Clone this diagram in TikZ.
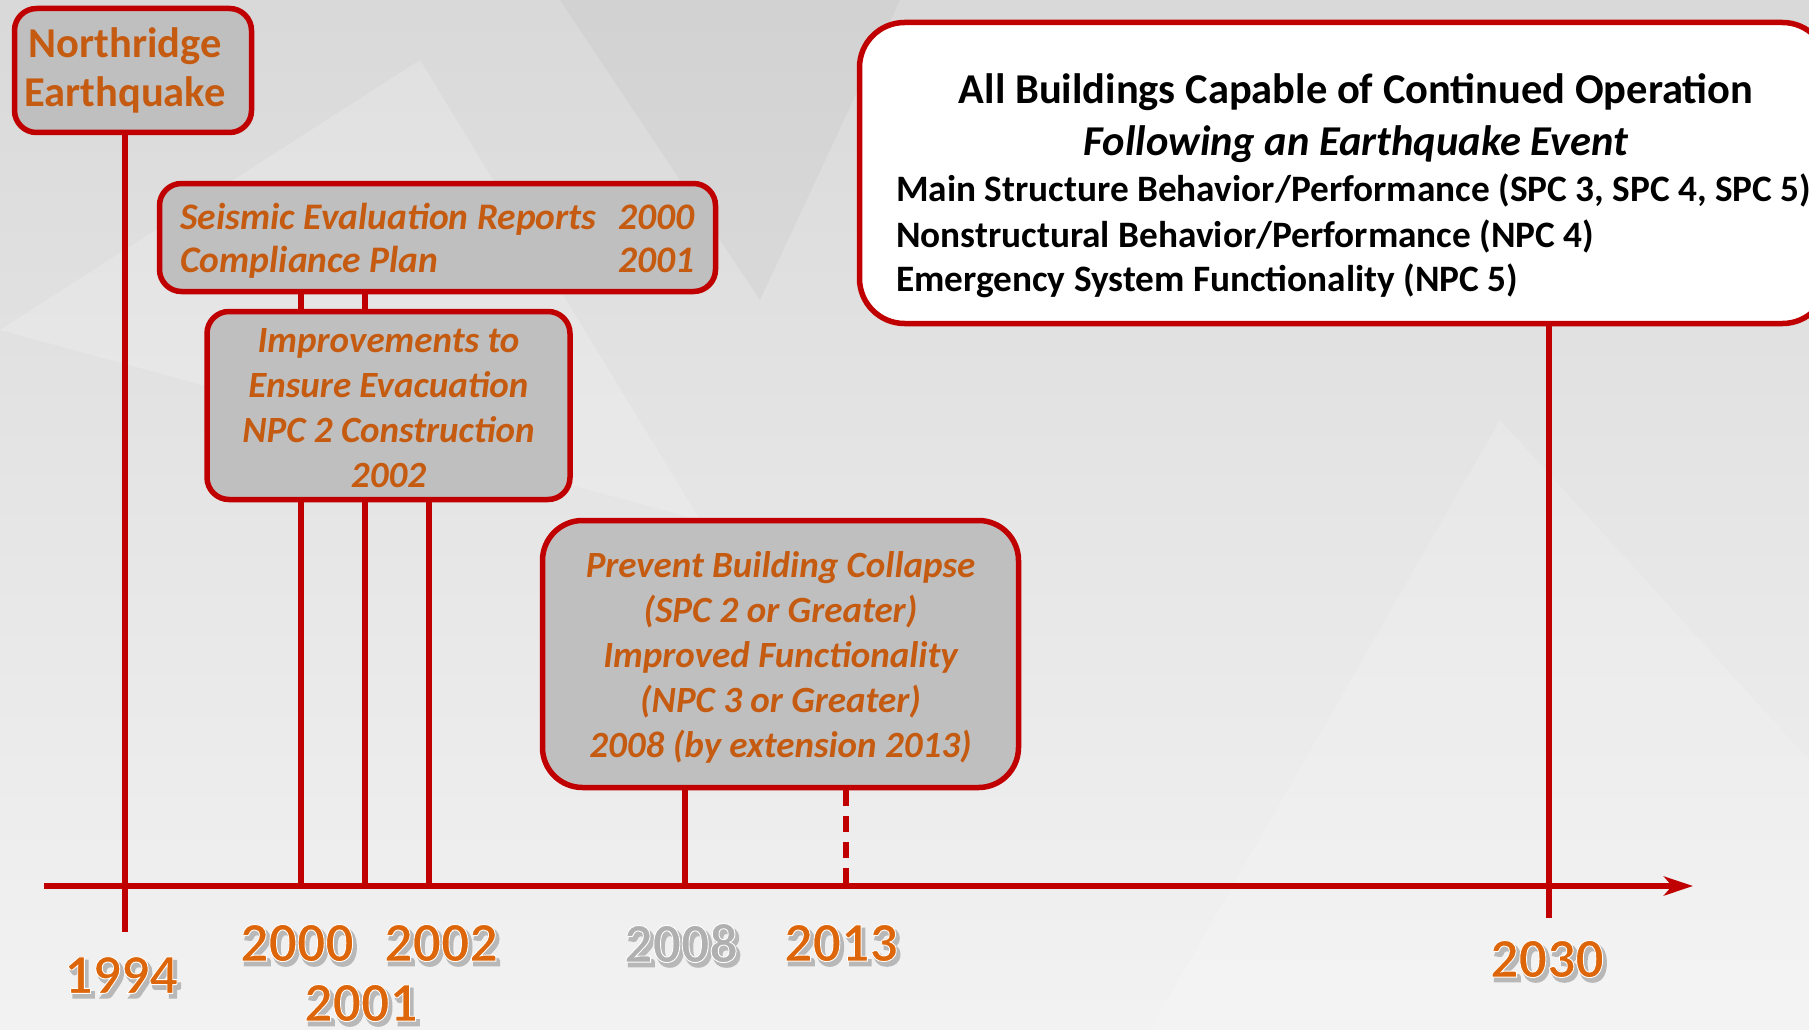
\documentclass[tikz,border=0pt]{standalone}
\usepackage{fontspec}
\setmainfont{Carlito}
\usetikzlibrary{arrows.meta}
\definecolor{tlred}{RGB}{192,0,0}
\definecolor{tlorange}{RGB}{197,90,17}
\definecolor{yrorange}{RGB}{222,102,10}
\definecolor{yrsilver}{RGB}{176,176,176}
\definecolor{boxgray}{RGB}{191,191,191}
% year label: soft shadow, then digits with a white outline
\newcommand{\yrlabel}[2]{%
  \rlap{\kern3pt\raisebox{-4pt}{\color{black!28}\special{pdf:literal direct 0.72 0.72 0.72 RG 2 Tr 2.5 w}#2\special{pdf:literal direct 0 Tr}}}%
  {\color{#1}\special{pdf:literal direct 1 1 1 RG 2 Tr 0.9 w}#2\special{pdf:literal direct 0 Tr}}}
% push a box's text down by half the given amount
\newcommand{\padtop}[2]{\raisebox{0pt}[\dimexpr\height+#1\relax]{#2}}
\begin{document}
\begin{tikzpicture}[x=1pt,y=-1pt,
    evbox/.style={draw=tlred,line width=5.5pt,fill=boxgray,rounded corners=22pt,
      text=tlorange,align=center,inner sep=0pt},
    tick/.style={tlred,line width=6pt},
    yr/.style={inner sep=0pt,font=\bfseries\fontsize{56}{56}\selectfont}]
  \useasboundingbox (0,0) rectangle (1809,1030);
  \shade[top color=black!15,bottom color=black!5] (0,0) rectangle (1809,1030);
  \fill[white,opacity=0.18] (0,330) -- (420,60) -- (700,520) -- cycle;
  \fill[white,opacity=0.15] (1150,1030) -- (1500,420) -- (1809,760) -- (1809,1030) -- cycle;
  \fill[black,opacity=0.03] (560,0) -- (900,0) -- (760,300) -- cycle;

  % points on the time axis
  \coordinate (t0) at (44,886);
  \coordinate (tend) at (1693,886);
  \coordinate (t1994) at (125,932);
  \coordinate (t2000) at (301,886);
  \coordinate (t2001) at (365,886);
  \coordinate (t2002) at (429,886);
  \coordinate (t2008) at (685,886);
  \coordinate (t2013) at (846,886);
  \coordinate (t2030) at (1549,918);

  \node[evbox,minimum width=237pt,minimum height=124pt,
    font=\bfseries\fontsize{42.5}{49}\selectfont] (nr) at (133,70.5)
    {Northridge\hspace*{16pt}\\Earthquake\hspace*{16pt}};
  \node[evbox,minimum width=556pt,minimum height=108pt,
    font=\bfseries\itshape\fontsize{37.5}{43}\selectfont] (seis) at (437.5,237.5)
    {\padtop{9pt}{\begin{tabular*}{514pt}{@{}l@{\extracolsep{\fill}}r@{}}
      Seismic Evaluation Reports & 2000\\
      Compliance Plan & 2001
    \end{tabular*}}};
  \draw[tick] (seis.south -| t2000) -- (t2000);
  \draw[tick] (seis.south -| t2001) -- (t2001);
  \node[evbox,minimum width=363pt,minimum height=188pt,
    font=\bfseries\itshape\fontsize{37}{45}\selectfont] (impr) at (388.5,405.5)
    {\padtop{5pt}{Improvements to}\\Ensure Evacuation\\NPC 2 Construction\\2002};
  \node[evbox,minimum width=476pt,minimum height=267pt,rounded corners=40pt,
    font=\bfseries\itshape\fontsize{37}{45}\selectfont] (prev) at (780.5,654)
    {\padtop{6pt}{Prevent Building Collapse}\\(SPC 2 or Greater)\\Improved Functionality\\
     (NPC 3 or Greater)\\2008 (by extension 2013)};
  \node[evbox,fill=white,minimum width=968pt,minimum height=301pt,rounded corners=45pt]
    (goal) at (1343.5,173) {};
  \node[font=\bfseries\fontsize{42.5}{42.5}\selectfont] (gt1) at (1356,92)
    {All Buildings Capable of Continued Operation};
  \node[font=\bfseries\itshape\fontsize{42.5}{42.5}\selectfont] (gt2) at (1356,144)
    {Following an Earthquake Event};
  \node[anchor=west,inner sep=0pt,font=\bfseries\fontsize{37.3}{37.3}\selectfont] (gl1) at (896,190)
    {Main Structure Behavior/Performance (SPC 3, SPC 4, SPC 5)};
  \node[anchor=west,inner sep=0pt,font=\bfseries\fontsize{37.3}{37.3}\selectfont] (gl2) at (896,236)
    {Nonstructural Behavior/Performance (NPC 4)};
  \node[anchor=west,inner sep=0pt,font=\bfseries\fontsize{37.3}{37.3}\selectfont] (gl3) at (896,281)
    {Emergency System Functionality (NPC 5)};

  \draw[tick] (nr.south -| t1994) -- (t1994);
  \draw[tick] (impr.south -| t2002) -- (t2002);
  \draw[tick] (prev.south -| t2008) -- (t2008);
  \draw[tick,dash pattern=on 16pt off 10pt] (prev.south -| t2013) -- (t2013);
  \draw[tick] (goal.south -| t2030) -- (t2030);
  \draw[tlred,line width=6pt,-{Stealth[length=29pt,width=19pt,inset=8pt]}] (t0) -- (tend);

  \node[yr] (y1994) at (121,977) {\yrlabel{yrorange}{1994}};
  \node[yr] (y2000) at (297,945) {\yrlabel{yrorange}{2000}};
  \node[yr] (y2001) at (361,1005) {\yrlabel{yrorange}{2001}};
  \node[yr] (y2002) at (441,945) {\yrlabel{yrorange}{2002}};
  \node[yr] (y2008) at (681,945) {\yrlabel{yrsilver}{2008}};
  \node[yr] (y2013) at (841,945) {\yrlabel{yrorange}{2013}};
  \node[yr] (y2030) at (1547,961) {\yrlabel{yrorange}{2030}};
\end{tikzpicture}
\end{document}
